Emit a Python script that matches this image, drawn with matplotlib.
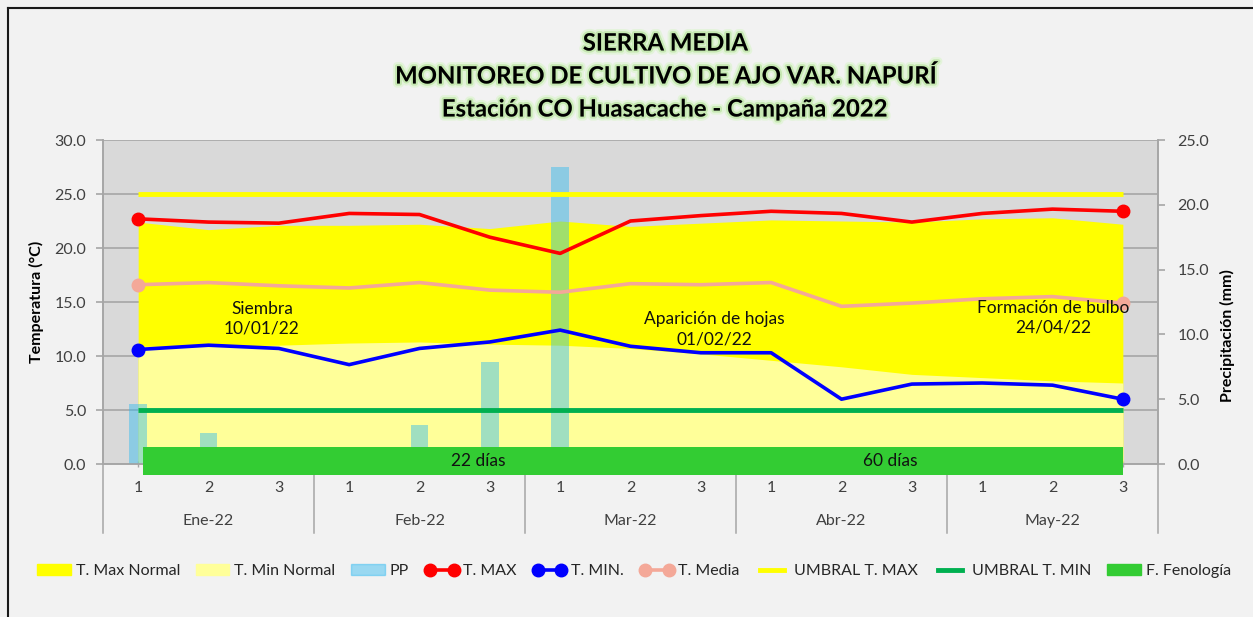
import matplotlib
matplotlib.use('Agg')
import matplotlib.pyplot as plt
import matplotlib.patheffects as pe
import matplotlib.transforms as mtransforms
from matplotlib.lines import Line2D
from matplotlib.patches import Patch
import numpy as np

plt.rcParams['font.family'] = ['Lato', 'DejaVu Sans']

# datos por decadas (ene-may 2022)
decadas = ['1', '2', '3'] * 5
meses = ['Ene-22', 'Feb-22', 'Mar-22', 'Abr-22', 'May-22']
t_max = [22.7, 22.4, 22.3, 23.2, 23.1, 21.0, 19.5, 22.5, 23.0, 23.4, 23.2, 22.4, 23.2, 23.6, 23.4]
t_min = [10.6, 11.0, 10.7, 9.2, 10.7, 11.3, 12.4, 10.9, 10.3, 10.3, 6.0, 7.4, 7.5, 7.3, 6.0]
t_media = [16.6, 16.8, 16.5, 16.3, 16.8, 16.1, 15.9, 16.7, 16.6, 16.8, 14.6, 14.9, 15.3, 15.5, 14.9]
t_max_normal = [22.4, 21.7, 22.1, 22.1, 22.2, 21.8, 22.5, 22.0, 22.3, 22.6, 22.5, 22.4, 22.7, 22.8, 22.2]
t_min_normal = [10.9, 10.9, 11.0, 11.2, 11.3, 11.1, 11.0, 10.7, 10.2, 9.6, 9.0, 8.3, 8.0, 7.7, 7.5]
pp = [4.6, 2.4, 0, 0, 3.0, 7.9, 22.9, 0, 0, 0, 0, 0, 0, 0, 0]
umbral_max = 25.0
umbral_min = 5.0

# fenologia (en unidades de decada)
fen_inicio = 0.07
fen_fin = 14.0
fen_etapas = ['22 días', '60 días']
fen_etapas_x = [4.83, 10.69]
eventos = ['Siembra\n10/01/22', 'Aparición de hojas\n01/02/22', 'Formación de bulbo\n24/04/22']
eventos_x = [1.76, 8.19, 13.01]
eventos_y = [13.47, 12.46, 13.55]

x = np.arange(len(t_max))
gris = '#a6a6a6'
txt = '#404040'

fig = plt.figure(figsize=(12.53, 6.17), dpi=100, facecolor='#f2f2f2')
ax = fig.add_axes([103 / 1253, 1 - 464 / 617, 1055 / 1253, 324 / 617])
ax.set_facecolor('#d9d9d9')
ax.set_xlim(-0.5, 14.5)
ax.set_ylim(0, 30)
ax.set_yticks(np.arange(0, 31, 5))
ax.set_yticklabels([f'{v:.1f}' for v in np.arange(0, 31, 5)])
ax.grid(axis='y', color=gris, lw=1.2)
ax.set_axisbelow(True)

# areas normales
ax.fill_between(x, 0, t_max_normal, color='#ffff00', lw=0)
ax.fill_between(x, 0, t_min_normal, color='#ffff99', lw=0)

for s in ['left', 'right', 'bottom']:
    ax.spines[s].set_color(gris)
    ax.spines[s].set_linewidth(1.2)
ax.spines['top'].set_visible(False)
ax.tick_params(axis='y', colors=gris, labelcolor=txt, labelsize=11.5, length=5, width=1.2, pad=7)
ax.set_xticks(x, decadas)
ax.tick_params(axis='x', colors=gris, labelcolor=txt, labelsize=11.5, length=4, width=1,
               direction='inout', pad=10)

# etiquetas de meses y separadores
trans = mtransforms.blended_transform_factory(ax.transData, ax.transAxes)
for i, m in enumerate(meses):
    ax.text(3 * i + 1, -0.176, m, transform=trans, ha='center', va='center',
            fontsize=11.5, color=txt)
for b in np.arange(-0.5, 15, 3):
    ax.plot([b, b], [0, -0.213], transform=trans, clip_on=False, color=gris, lw=1.1)

# precipitacion (eje derecho)
ax2 = ax.twinx()
ax2.set_ylim(0, 25)
ax2.set_yticks(np.arange(0, 26, 5))
ax2.set_yticklabels([f'{v:.1f}' for v in np.arange(0, 26, 5)])
barras = ax2.bar(x, pp, width=0.25, color='#2ebaf1', alpha=0.45, lw=0)
for s in ['left', 'right', 'bottom']:
    ax2.spines[s].set_color(gris)
    ax2.spines[s].set_linewidth(1.2)
ax2.spines['top'].set_visible(False)
ax2.tick_params(axis='y', colors=gris, labelcolor=txt, labelsize=11.5, length=5, width=1.2, pad=9)

# lineas encima de todo
ax3 = fig.add_axes(ax.get_position(), sharex=ax, sharey=ax, label='lineas')
ax3.axis('off')
ax3.patch.set_visible(False)
ult = len(x) - 1
ax3.hlines(umbral_max, x[0], x[-1], color='#ffff00', lw=3.5)
ax3.hlines(umbral_min, x[0], x[-1], color='#00b050', lw=3.5)
ax3.plot(x, t_max, color='#ff0000', lw=2.6, marker='o', ms=9, markevery=[0, ult])
ax3.plot(x, t_min, color='#0000ff', lw=2.6, marker='o', ms=9, markevery=[0, ult])
ax3.plot(x, t_media, color='#f4a898', lw=2.6, marker='o', ms=9, markevery=[0, ult])

fen = ax3.barh(0.28, fen_fin - fen_inicio, left=fen_inicio, height=2.6, color='#33cc33', lw=0)
for p in fen:
    p.set_clip_on(False)
for lab, xp in zip(fen_etapas, fen_etapas_x):
    ax3.text(xp, 0.3, lab, ha='center', va='center', fontsize=12.5, color='#111111')
for ev, xe, ye in zip(eventos, eventos_x, eventos_y):
    ax3.text(xe, ye, ev, ha='center', va='center', fontsize=12.5, color='#111111', linespacing=1.3)

# titulos (con brillo verde suave)
glow = [pe.withStroke(linewidth=6, foreground='#e2f4d8', alpha=0.9),
        pe.withStroke(linewidth=3, foreground='#bfe6a8', alpha=0.8)]
titulos = ['SIERRA MEDIA', 'MONITOREO DE CULTIVO DE AJO VAR. NAPURÍ',
           'Estación CO Huasacache - Campaña 2022']
for t, yy in zip(titulos, [43, 76, 109]):
    fig.text(665 / 1253, 1 - yy / 617, t, ha='center', va='center', fontsize=17.2,
             fontweight='bold', color='black', path_effects=glow)

fig.text(36 / 1253, 1 - 302 / 617, 'Temperatura (°C)', rotation=90, ha='center', va='center',
         fontsize=11.5, fontweight='bold', color='black')
fig.text(1227 / 1253, 1 - 336 / 617, 'Precipitación (mm)', rotation=90, ha='center', va='center',
         fontsize=11.5, fontweight='bold', color='black')

# leyenda
handles = [
    Patch(color='#ffff00'),
    Patch(color='#ffff99'),
    Patch(color='#2ebaf1', alpha=0.45),
    Line2D([], [], color='#ff0000', lw=2.6, marker='o', ms=9),
    Line2D([], [], color='#0000ff', lw=2.6, marker='o', ms=9),
    Line2D([], [], color='#f4a898', lw=2.6, marker='o', ms=9),
    Line2D([], [], color='#ffff00', lw=3.5),
    Line2D([], [], color='#00b050', lw=3.5),
    Patch(color='#33cc33'),
]
labels = ['T. Max Normal', 'T. Min Normal', 'PP', 'T. MAX', 'T. MIN.', 'T. Media',
          'UMBRAL T. MAX', 'UMBRAL T. MIN', 'F. Fenología']
fig.legend(handles, labels, loc='center', bbox_to_anchor=(634 / 1253, 1 - 571 / 617), ncol=9,
           frameon=False, fontsize=11.5, handlelength=2.1, handletextpad=0.3,
           columnspacing=1.0, numpoints=2, labelcolor='#262626')

# marco
fig.add_artist(Line2D([8 / 1253, 8 / 1253], [0, 1 - 8 / 617], color='#1a1a1a', lw=1.5))
fig.add_artist(Line2D([8 / 1253, 1], [1 - 8 / 617, 1 - 8 / 617], color='#1a1a1a', lw=1.5))

fig.savefig('out.png', dpi=100, facecolor=fig.get_facecolor())
